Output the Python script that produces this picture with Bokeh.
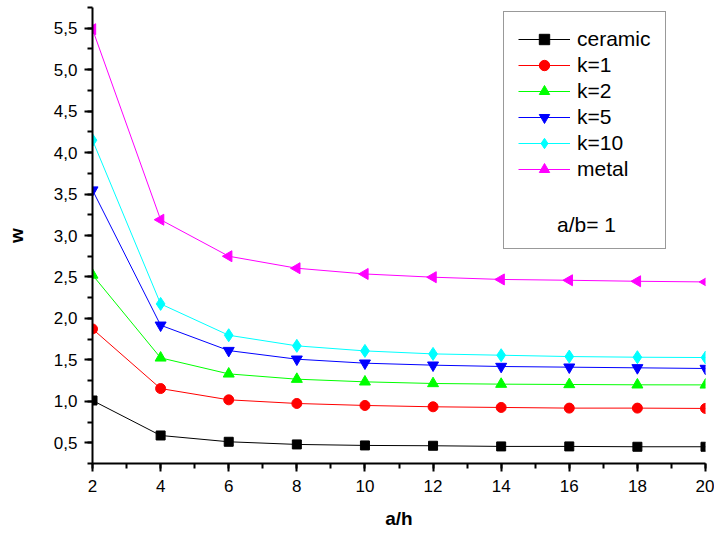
import math
from bokeh.plotting import figure
from bokeh.models import (Legend, LegendItem, SingleIntervalTicker,
                          CustomJSTickFormatter, Range1d)
from bokeh.embed import file_html
from bokeh.resources import INLINE

# ---- data ----
a_h = [2, 4, 6, 8, 10, 12, 14, 16, 18, 20]
ceramic = [1.01, 0.588, 0.512, 0.48, 0.468, 0.464, 0.456, 0.456, 0.452, 0.452]
k1 = [1.873, 1.154, 1.018, 0.974, 0.95, 0.934, 0.926, 0.918, 0.918, 0.914]
k2 = [2.524, 1.524, 1.331, 1.267, 1.235, 1.215, 1.207, 1.203, 1.199, 1.198]
k5 = [3.548, 1.918, 1.612, 1.508, 1.46, 1.436, 1.42, 1.412, 1.404, 1.396]
k10 = [4.15, 2.175, 1.797, 1.669, 1.608, 1.572, 1.556, 1.54, 1.532, 1.528]
metal = [5.488, 3.19, 2.75, 2.605, 2.536, 2.497, 2.47, 2.46, 2.448, 2.44]

series_names = ["ceramic", "k=1", "k=2", "k=5", "k=10", "metal"]
series_values = [ceramic, k1, k2, k5, k10, metal]
note_text = "a/b= 1"

colors = ["#000000", "#FF0000", "#00FF00", "#0000FF", "#00FFFF", "#FF00FF"]
markers = ["square", "circle", "triangle", "inverted_triangle", "diamond", "triangle"]
angles = [0, 0, 0, 0, 0, math.pi / 2]
sizes = [9, 10, 11, 11, 13, 11]

p = figure(width=714, height=534, output_backend="svg", toolbar_location=None,
           x_range=Range1d(2, 20), y_range=Range1d(0.25, 5.75),
           min_border_left=92, min_border_right=9, min_border_top=7,
           min_border_bottom=71)
p.outline_line_color = None
p.grid.visible = False
p.background_fill_color = "white"
p.border_fill_color = "white"

items = []
for name, vals, c, m, ang, s in zip(series_names, series_values, colors, markers, angles, sizes):
    r1 = p.line(a_h, vals, line_color=c, line_width=1)
    r2 = p.scatter(a_h, vals, marker=m, size=s, angle=ang,
                   fill_color=c, line_color=c)
    items.append(LegendItem(label=name, renderers=[r1, r2]))

# two spacer entries to make room for the note inside the legend box
for _ in range(2):
    rs = p.line([], [], line_alpha=0)
    items.append(LegendItem(label=" ", renderers=[rs]))

legend = Legend(items=items, location=(411, 214))
legend.label_text_font = "Liberation Sans"
legend.label_text_font_size = "21px"
legend.label_text_color = "black"
legend.glyph_width = 52
legend.glyph_height = 26
legend.label_height = 26
legend.spacing = 0
legend.padding = 14
legend.margin = 0
legend.label_standoff = 7
legend.border_line_color = "#333333"
legend.border_line_width = 1
legend.background_fill_color = "white"
legend.background_fill_alpha = 1
p.add_layout(legend, "center")

# note inside the legend box
rn = p.line([], [], line_alpha=0)
note = Legend(items=[LegendItem(label=note_text, renderers=[rn])], location=(464, 225))
note.label_text_font = "Liberation Sans"
note.label_text_font_size = "21px"
note.label_text_color = "black"
note.glyph_width = 1
note.glyph_height = 26
note.label_height = 26
note.label_standoff = 0
note.padding = 0
note.margin = 0
note.border_line_color = None
note.background_fill_alpha = 0
p.add_layout(note, "center")

# axes
p.xaxis.ticker = SingleIntervalTicker(interval=2, num_minor_ticks=2)
p.yaxis.ticker = SingleIntervalTicker(interval=0.5, num_minor_ticks=2)
p.yaxis.formatter = CustomJSTickFormatter(code="return tick.toFixed(1).replace('.', ',');")
p.xaxis.axis_label = "a/h"
p.yaxis.axis_label = "w"
for ax in (p.xaxis, p.yaxis):
    ax.axis_line_width = 2
    ax.axis_line_color = "black"
    ax.major_tick_line_width = 2
    ax.minor_tick_line_width = 2
    ax.major_tick_line_color = "black"
    ax.minor_tick_line_color = "black"
    ax.major_tick_out = 8
    ax.major_tick_in = 0
    ax.minor_tick_out = 5
    ax.minor_tick_in = 0
    ax.major_label_text_font = "Liberation Sans"
    ax.major_label_text_font_size = "17px"
    ax.major_label_text_color = "black"
    ax.axis_label_text_font = "Liberation Sans"
    ax.axis_label_text_font_size = "19px"
    ax.axis_label_text_font_style = "bold"
    ax.axis_label_text_color = "black"
p.xaxis.major_label_standoff = 8
p.xaxis.axis_label_standoff = 13
p.yaxis.major_label_standoff = 7
p.yaxis.axis_label_standoff = 24

open("out.html", "w").write(file_html(p, INLINE))
